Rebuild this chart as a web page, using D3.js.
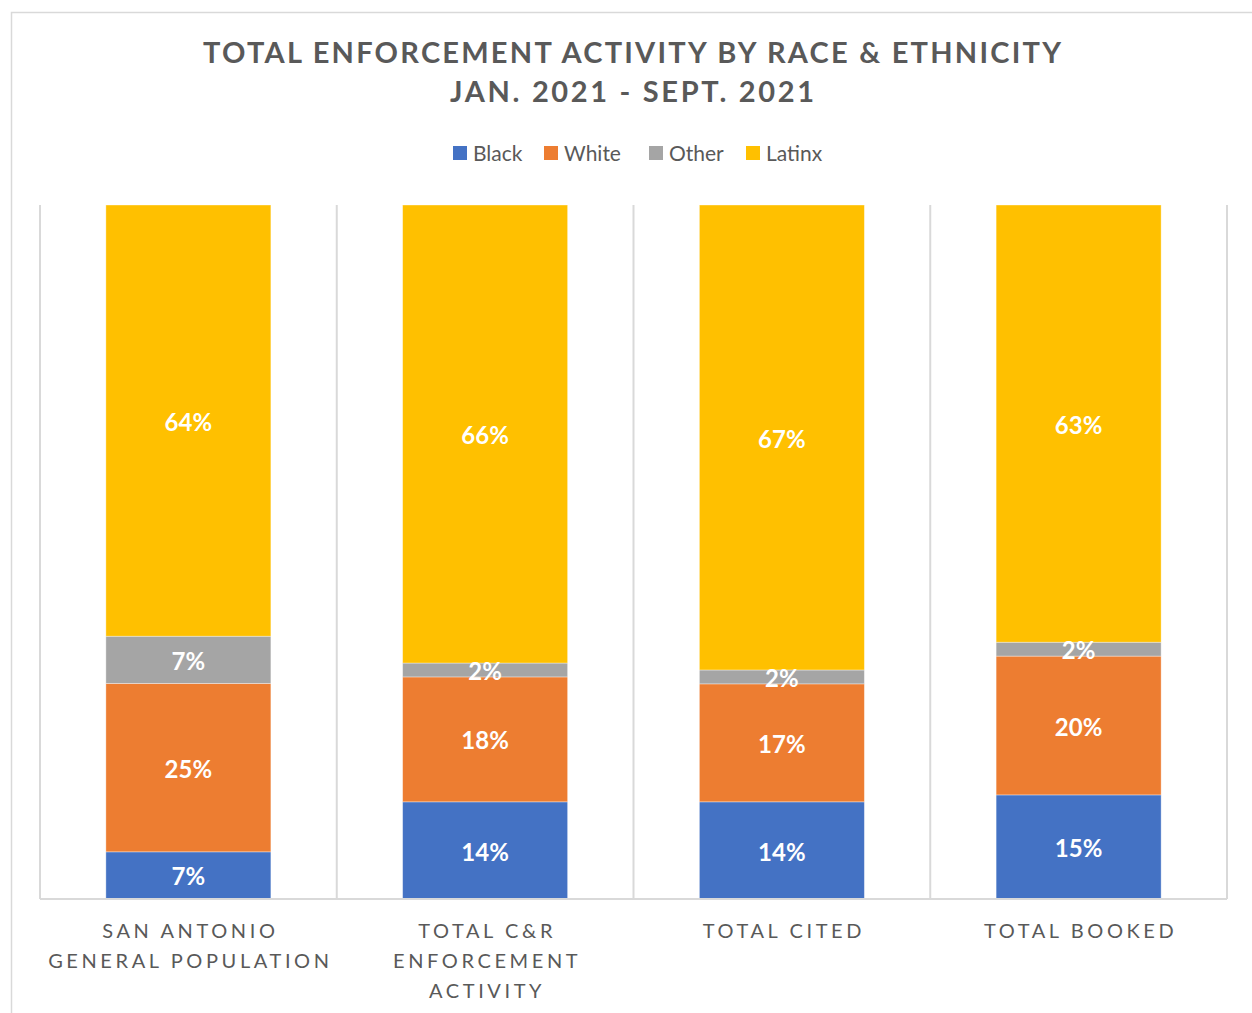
<!DOCTYPE html>
<html>
<head>
<meta charset="utf-8">
<script src="https://cdn.jsdelivr.net/npm/d3@7"></script>
<style>
  html, body { margin: 0; padding: 0; background: #fff; }
  svg { display: block; }
</style>
</head>
<body>
<svg id="chart" width="1252" height="1013"></svg>
<script>
// Categories (axis labels, one array of lines per category)
const categories = ["SAN ANTONIO GENERAL POPULATION", "TOTAL C&R ENFORCEMENT ACTIVITY", "TOTAL CITED", "TOTAL BOOKED"];
const categoryLines = [
  ["SAN ANTONIO", "GENERAL POPULATION"],
  ["TOTAL C&R", "ENFORCEMENT", "ACTIVITY"],
  ["TOTAL CITED"],
  ["TOTAL BOOKED"]
];

// Series, in stacking order (bottom to top), percentages per category
const seriesNames = ["Black", "White", "Other", "Latinx"];
const black  = [7, 14, 14, 15];
const white  = [25, 18, 17, 20];
const other  = [7, 2, 2, 2];
const latinx = [64, 66, 67, 63];

const colors = ["#4472C4", "#ED7D31", "#A5A5A5", "#FFC000"];

const titleLines = ["TOTAL ENFORCEMENT ACTIVITY BY RACE & ETHNICITY", "JAN. 2021 - SEPT. 2021"];

// Table for the stack generator
const table = categories.map((c, i) => ({
  category: c,
  Black: black[i], White: white[i], Other: other[i], Latinx: latinx[i]
}));

const svg = d3.select("#chart");
const W = 1252, H = 1013;
const margin = { left: 40, right: 25, top: 205, bottom: 114 };
const plotW = 1227 - 40, plotH = 899 - 205;

// Outer chart frame
svg.append("rect")
  .attr("x", 11.5).attr("y", 12.5)
  .attr("width", W + 20).attr("height", H + 20)
  .attr("fill", "none").attr("stroke", "#d9d9d9").attr("stroke-width", 1.5);

// Title
const title = svg.append("g").attr("font-family", "Lato, 'Open Sans', sans-serif")
  .attr("font-weight", "700").attr("fill", "#595959").attr("font-size", 29);
title.append("text").attr("x", 632).attr("y", 63).attr("text-anchor", "middle")
  .attr("textLength", 858).attr("lengthAdjust", "spacing").text(titleLines[0]);
title.append("text").attr("x", 632).attr("y", 102).attr("text-anchor", "middle")
  .attr("textLength", 364).attr("lengthAdjust", "spacing").text(titleLines[1]);

// Legend
const legendX = [453, 544, 649, 746];
const legend = svg.append("g").attr("font-family", "Lato, 'Open Sans', sans-serif")
  .attr("font-size", 21).attr("fill", "#595959");
seriesNames.forEach((name, i) => {
  legend.append("rect").attr("x", legendX[i]).attr("y", 146)
    .attr("width", 14).attr("height", 14).attr("fill", colors[i]);
  legend.append("text").attr("x", legendX[i] + 20).attr("y", 161).text(name);
});

const g = svg.append("g").attr("transform", `translate(${margin.left},${margin.top})`);

const x = d3.scaleBand().domain(categories).range([0, plotW]).paddingInner(0).paddingOuter(0);
const y = d3.scaleLinear().domain([0, 1]).range([plotH, 0]);
const barW = 165;

// Vertical separators between categories
const bounds = categories.map(c => x(c)).concat([plotW]);
g.selectAll("line.sep").data(bounds).join("line")
  .attr("class", "sep")
  .attr("x1", d => d).attr("x2", d => d)
  .attr("y1", 0).attr("y2", plotH)
  .attr("stroke", "#d9d9d9").attr("stroke-width", 2);

// 100% stacked series
const stack = d3.stack().keys(seriesNames).offset(d3.stackOffsetExpand);
const layers = stack(table);

const layerG = g.selectAll("g.layer").data(layers).join("g")
  .attr("class", "layer").attr("fill", (d, i) => colors[i]);

layerG.selectAll("rect").data(d => d).join("rect")
  .attr("x", d => x(d.data.category) + (x.bandwidth() - barW) / 2)
  .attr("width", barW)
  .attr("y", d => y(d[1]))
  .attr("height", d => y(d[0]) - y(d[1]))
  .attr("stroke", "rgba(255,255,255,0.45)").attr("stroke-width", 0.8);

// Data labels (drawn after all bars so small segments stay readable)
const labelG = g.append("g")
  .attr("font-family", "Lato, 'Open Sans', sans-serif")
  .attr("font-weight", "700").attr("font-size", 24)
  .attr("fill", "#fff").attr("text-anchor", "middle");
layers.forEach(layer => {
  labelG.selectAll(null).data(layer).join("text")
    .attr("x", d => x(d.data.category) + x.bandwidth() / 2)
    .attr("y", d => (y(d[0]) + y(d[1])) / 2)
    .attr("dy", "0.42em")
    .text(d => d.data[layer.key] + "%");
});

// Baseline axis
g.append("line").attr("x1", 0).attr("x2", plotW).attr("y1", plotH).attr("y2", plotH)
  .attr("stroke", "#d9d9d9").attr("stroke-width", 2);

// Category labels
const axisG = g.append("g").attr("font-family", "Lato, 'Open Sans', sans-serif")
  .attr("font-size", 20).attr("fill", "#595959").attr("letter-spacing", "3.6px");
categories.forEach((c, i) => {
  const t = axisG.append("text").attr("text-anchor", "middle");
  categoryLines[i].forEach((line, j) => {
    t.append("tspan").attr("x", x(c) + x.bandwidth() / 2 + 2)
      .attr("y", plotH + 39 + j * 30).text(line);
  });
});
</script>
</body>
</html>
